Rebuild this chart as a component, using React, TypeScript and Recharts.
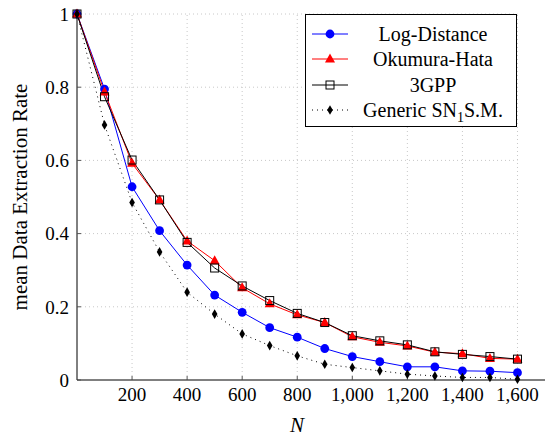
import React from "react";
import {
    LineChart, Line, XAxis, YAxis, ReferenceLine,
} from "recharts";

const N_VALUES = [0, 100, 200, 300, 400, 500, 600, 700, 800, 900, 1000, 1100, 1200, 1300, 1400, 1500, 1600];
const LOG_DISTANCE = [1, 0.795, 0.528, 0.408, 0.314, 0.232, 0.185, 0.143, 0.117, 0.086, 0.064, 0.05, 0.036, 0.036, 0.025, 0.024, 0.02];
const OKUMURA_HATA = [1, 0.787, 0.592, 0.492, 0.38, 0.326, 0.252, 0.208, 0.178, 0.157, 0.118, 0.103, 0.093, 0.076, 0.072, 0.059, 0.057];
const THREE_GPP = [1, 0.774, 0.601, 0.492, 0.376, 0.306, 0.257, 0.217, 0.182, 0.157, 0.121, 0.107, 0.096, 0.077, 0.07, 0.064, 0.057];
const GENERIC = [1, 0.697, 0.485, 0.35, 0.24, 0.18, 0.126, 0.094, 0.066, 0.043, 0.034, 0.025, 0.016, 0.011, 0.007, 0.007, 0.002];

const X_TICKS = [200, 400, 600, 800, 1000, 1200, 1400, 1600];
const Y_TICKS = [0, 0.2, 0.4, 0.6, 0.8, 1];

const FONT = "Liberation Serif, Times New Roman, Times, DejaVu Serif, serif";
const GRID = "#c8c8c8";

const data = N_VALUES.map((n, i) => ({
    n,
    logd: LOG_DISTANCE[i],
    oh: OKUMURA_HATA[i],
    gpp: THREE_GPP[i],
    gen: GENERIC[i],
}));

type Shape = "circle" | "triangle" | "square" | "diamond";

function marker(shape: Shape, cx: number, cy: number, color: string, key?: string | number) {
    if (shape === "circle") return <circle key={key} cx={cx} cy={cy} r={4.4} fill={color} />;
    if (shape === "triangle")
        return <polygon key={key} points={`${cx},${cy - 5.5} ${cx + 5},${cy + 3.5} ${cx - 5},${cy + 3.5}`} fill={color} />;
    if (shape === "square")
        return <rect key={key} x={cx - 4} y={cy - 4} width={8} height={8} fill="none" stroke={color} strokeWidth={1} />;
    return <polygon key={key} points={`${cx},${cy - 4.8} ${cx + 2.8},${cy} ${cx},${cy + 4.8} ${cx - 2.8},${cy}`} fill={color} />;
}

const dotFor = (shape: Shape, color: string) => (props: any) =>
    marker(shape, props.cx, props.cy, color, `${shape}-${props.index}`);

const XTick = (props: any) => (
    <text x={props.x} y={props.y} dy="0.71em" textAnchor="middle" fontFamily={FONT} fontSize={19} fill="#000">
        {Number(props.payload.value).toLocaleString("en-US")}
    </text>
);

const YTick = (props: any) => (
    <text x={props.x} y={props.y} dy="0.355em" textAnchor="end" fontFamily={FONT} fontSize={19} fill="#000">
        {String(props.payload.value)}
    </text>
);

const LEGEND_ITEMS = [
    { label: "Log-Distance", shape: "circle" as Shape, color: "#0000ff", dash: undefined },
    { label: "Okumura-Hata", shape: "triangle" as Shape, color: "#ff0000", dash: undefined },
    { label: "3GPP", shape: "square" as Shape, color: "#000000", dash: undefined },
    { label: "Generic SN", shape: "diamond" as Shape, color: "#000000", dash: "1 4" },
];

function LegendBox() {
    return (
        <div
            style={{
                position: "absolute",
                left: 305,
                top: 14,
                width: 212,
                height: 113,
                border: "1px solid #000",
                background: "#fff",
                fontFamily: FONT,
                fontSize: 20,
                boxSizing: "border-box",
                paddingTop: 6,
            }}
        >
            {LEGEND_ITEMS.map((it, i) => (
                <div key={i} style={{ display: "flex", alignItems: "center", height: 25.5 }}>
                    <svg width={44} height={20} style={{ flex: "none" }}>
                        <line x1={6} y1={10} x2={42} y2={10} stroke={it.color} strokeWidth={1} strokeDasharray={it.dash} />
                        {marker(it.shape, 24, 10, it.color)}
                    </svg>
                    <span style={{ flex: 1, textAlign: "center", color: "#000", whiteSpace: "nowrap", lineHeight: "20px" }}>
                        {it.label === "Generic SN" ? (
                            <>Generic SN<sub style={{ fontSize: 14, lineHeight: 0 }}>1</sub>S.M.</>
                        ) : (
                            it.label
                        )}
                    </span>
                </div>
            ))}
        </div>
    );
}

export default function App() {
    return (
        <div style={{ position: "absolute", left: 0, top: 0, width: 555, height: 439, background: "#fff", fontFamily: FONT }}>
            <LineChart
                width={555}
                height={439}
                data={data}
                margin={{ top: 14, right: 10, bottom: 0, left: 0 }}
            >
                {X_TICKS.map((t) => (
                    <ReferenceLine key={`vx${t}`} x={t} stroke={GRID} strokeDasharray="1 3" />
                ))}
                {Y_TICKS.filter((t) => t > 0).map((t) => (
                    <ReferenceLine
                        key={`hy${t}`}
                        segment={[{ x: 0, y: t }, { x: 1600, y: t }]}
                        stroke={GRID}
                        strokeDasharray="1 3"
                    />
                ))}
                <XAxis
                    dataKey="n"
                    type="number"
                    domain={[0, 1700]}
                    ticks={X_TICKS}
                    height={59}
                    stroke="#000"
                    tickSize={-4}
                    tickMargin={12}
                    tickLine={{ stroke: "#555" }}
                    tick={<XTick />}
                    label={() => (
                        <text
                            x={297}
                            y={432}
                            textAnchor="middle"
                            fontFamily={FONT}
                            fontStyle="italic"
                            fontSize={21}
                            fill="#000"
                        >
                            N
                        </text>
                    )}
                />
                <YAxis
                    type="number"
                    domain={[0, 1]}
                    ticks={Y_TICKS}
                    width={77}
                    stroke="#000"
                    tickSize={-4}
                    tickMargin={12}
                    tickLine={{ stroke: "#555" }}
                    tick={<YTick />}
                    label={() => (
                        <text
                            x={27}
                            y={197}
                            transform="rotate(-90 27 197)"
                            textAnchor="middle"
                            fontFamily={FONT}
                            fontSize={21}
                            fill="#000"
                        >
                            mean Data Extraction Rate
                        </text>
                    )}
                />
                <Line dataKey="logd" stroke="#0000ff" strokeWidth={1} dot={dotFor("circle", "#0000ff")} isAnimationActive={false} />
                <Line dataKey="oh" stroke="#ff0000" strokeWidth={1} dot={dotFor("triangle", "#ff0000")} isAnimationActive={false} />
                <Line dataKey="gpp" stroke="#000" strokeWidth={1} dot={dotFor("square", "#000")} isAnimationActive={false} />
                <Line dataKey="gen" stroke="#000" strokeWidth={1} strokeDasharray="1 4" dot={dotFor("diamond", "#000")} isAnimationActive={false} />
            </LineChart>
            <LegendBox />
        </div>
    );
}
